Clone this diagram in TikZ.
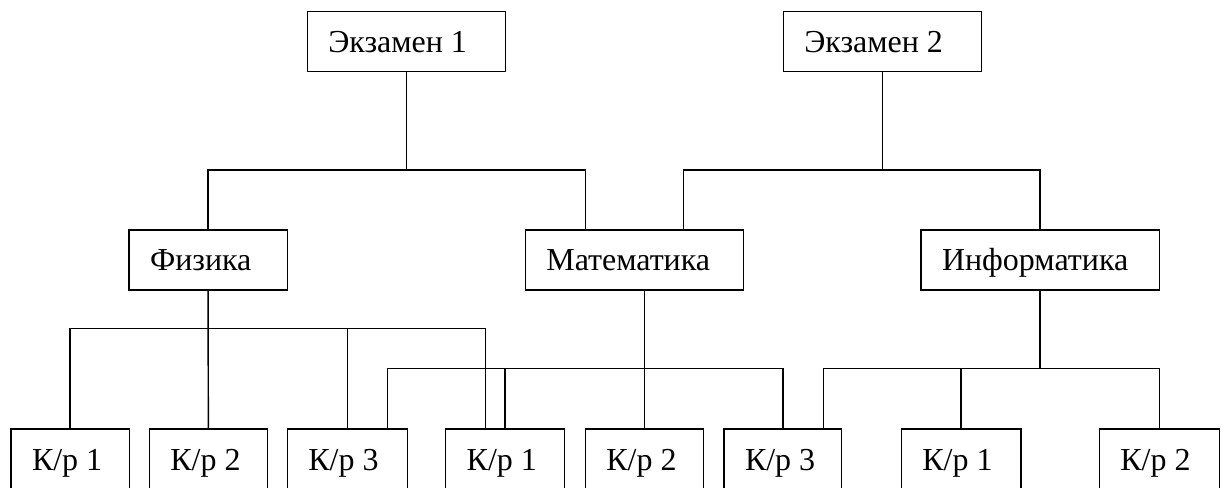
\documentclass[tikz,border=0pt]{standalone}
\usepackage{fontspec}
\setmainfont{Liberation Serif}
\usetikzlibrary{calc}

% one labelled box: name, left, top, width (px), text
\newcommand\cell[5]{%
  \pgfmathsetlengthmacro\cellw{#4*0.75pt-31.5pt}%
  \node[kbox] (#1) at (#2,#3) {\makebox[\cellw][l]{#5}};}

\begin{document}
\begin{tikzpicture}[x=0.75pt,y=-0.75pt,
  kbox/.style={draw, line width=1.1pt, inner xsep=15.75pt, inner ysep=0pt,
    minimum height=45pt, text height=16pt, text depth=0pt, outer sep=0pt,
    anchor=north west, font=\fontsize{24pt}{28pt}\selectfont},
  link/.style={line width=1.1pt}]
\useasboundingbox (0,0) rectangle (1222,488);
\fill[white] (0,0) rectangle (1222,488);
\clip (0,0) rectangle (1222,488);

% exams
\cell{e1}{307.3}{11.7}{198.4}{Экзамен 1}
\cell{e2}{783.3}{11.7}{198.4}{Экзамен 2}

% subjects
\cell{fiz}{129}{230}{158.3}{Физика}
\cell{mat}{525.3}{230}{218}{Математика}
\cell{inf}{921}{230}{238.3}{Информатика}

% tests
\begin{scope}[kbox/.append style={minimum height=45.75pt}]
\cell{k1}{11}{429}{118.3}{К/р 1}
\cell{k2}{149.3}{429}{118}{К/р 2}
\cell{k3}{287.3}{429}{120}{К/р 3}
\cell{m1}{445.7}{429}{119}{К/р 1}
\cell{m2}{585.3}{429}{118}{К/р 2}
\cell{m3}{724}{429}{117.7}{К/р 3}
\cell{i1}{901.3}{429}{119.7}{К/р 1}
\cell{i2}{1099.3}{429}{120}{К/р 2}
\end{scope}

% bus levels
\coordinate (busA) at (0,170);
\coordinate (busB) at (0,328.7);
\coordinate (busC) at (0,368.7);

% side attachment points on shared boxes
\coordinate (matA) at ($(mat.north west)+(60,0)$);
\coordinate (matB) at ($(mat.north west)+(158.4,0)$);
\coordinate (k3M)  at ($(k3.north west)+(100,0)$);
\coordinate (m1F)  at ($(m1.north west)+(39.6,0)$);
\coordinate (m3I)  at ($(m3.north west)+(99.3,0)$);

% exam 1 -> physics, mathematics
\draw[link] (e1.south) -- (e1.south |- busA);
\draw[link] (fiz.north) -- (fiz.north |- busA) -- (matA |- busA) -- (matA);

% exam 2 -> mathematics, informatics
\draw[link] (e2.south) -- (e2.south |- busA);
\draw[link] (matB) -- (matB |- busA) -- (inf.north |- busA) -- (inf.north);

% physics -> tests
\draw[link] (fiz.south) -- (k2.north);
\draw[link] (k1.north) -- (k1.north |- busB) -- (m1F |- busB) -- (m1F);
\draw[link] (k3.north) -- (k3.north |- busB);

% mathematics -> tests
\draw[link] (mat.south -| m2.north) -- (m2.north);
\draw[link] (k3M) -- (k3M |- busC) -- (m3.north |- busC) -- (m3.north);
\draw[link] (m1.north) -- (m1.north |- busC);

% informatics -> tests
\draw[link] (inf.south) -- (inf.south |- busC);
\draw[link] (m3I) -- (m3I |- busC) -- (i2.north |- busC) -- (i2.north);
\draw[link] (i1.north) -- (i1.north |- busC);
\end{tikzpicture}
\end{document}
